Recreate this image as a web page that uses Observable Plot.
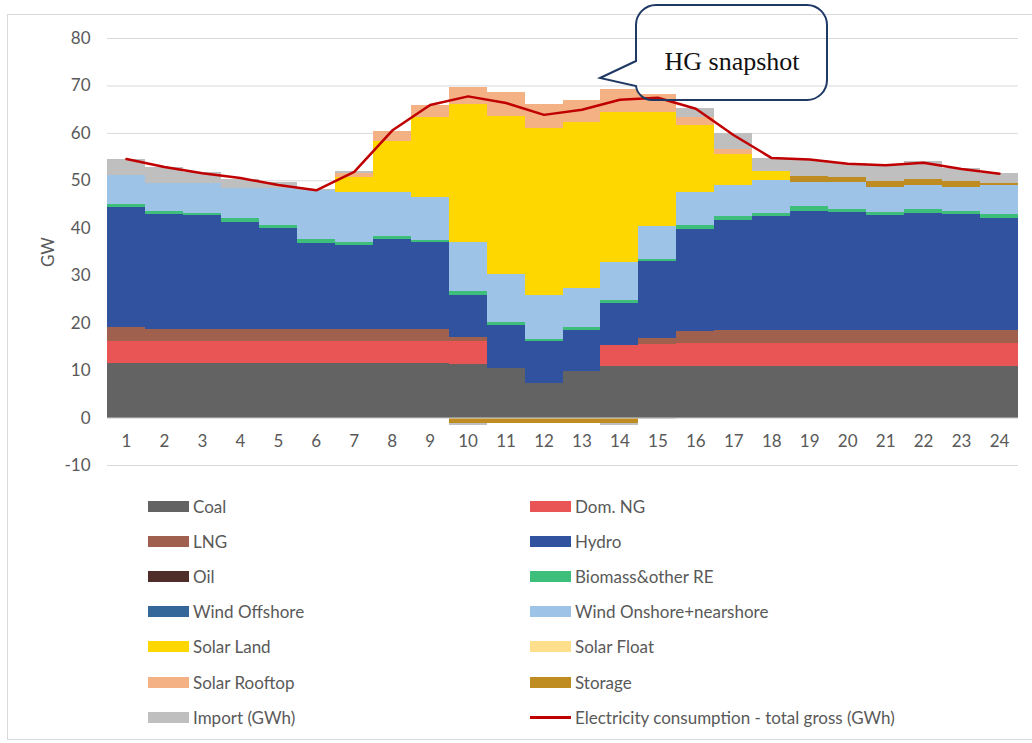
<!DOCTYPE html>
<html>
<head>
<meta charset="utf-8">
<script src="https://cdn.jsdelivr.net/npm/d3@7"></script>
<script src="https://cdn.jsdelivr.net/npm/@observablehq/plot@0.6"></script>
<style>
  html, body { margin: 0; padding: 0; background: #fff; }
  #wrap { position: relative; width: 1032px; height: 743px; overflow: hidden; font-family: Lato, "Open Sans", sans-serif; }
  #frame { position: absolute; left: 7px; top: 14px; width: 1040px; height: 726px; border: 1px solid #d9d9d9; box-sizing: border-box; }
  #chart { position: absolute; left: 0; top: 0; }
  #legend { position: absolute; left: 0; top: 0; width: 1032px; height: 743px; pointer-events: none; }
  .li { position: absolute; display: flex; align-items: center; font-size: 17px; color: #595959; white-space: nowrap; }
  .sw { width: 41px; height: 11px; margin-right: 4px; }
  .ln { width: 41px; height: 3px; margin-right: 4px; }
  #callout { position: absolute; left: 0; top: 0; }
</style>
</head>
<body>
<div id="wrap">
  <div id="frame"></div>
  <div id="chart"></div>
  <div id="legend"></div>
  <svg id="callout" width="1032" height="743"></svg>
</div>
<script>
const hours = [1,2,3,4,5,6,7,8,9,10,11,12,13,14,15,16,17,18,19,20,21,22,23,24];
const yTicks = [-10,0,10,20,30,40,50,60,70,80];

const coal         = [11.5,11.5,11.5,11.5,11.5,11.5,11.5,11.5,11.5,11.2,10.5,7.2,9.8,10.9,10.9,10.9,10.9,10.9,10.9,10.9,10.9,10.9,10.9,10.9];
const domNG        = [4.7,4.7,4.7,4.7,4.7,4.7,4.7,4.7,4.7,4.9,0,0,0,4.3,4.7,4.8,4.8,4.8,4.8,4.8,4.8,4.8,4.8,4.8];
const lng          = [2.9,2.5,2.5,2.5,2.5,2.5,2.5,2.5,2.5,0.8,0,0,0,0,1.2,2.5,2.7,2.7,2.8,2.8,2.8,2.8,2.8,2.8];
const hydro        = [25.2,24.2,23.9,22.5,21.2,18.1,17.7,18.9,18.2,9.0,9.1,8.9,8.7,8.9,16.1,21.6,23.3,24.1,25.1,24.8,24.2,24.7,24.4,23.5];
const oil          = [0,0,0,0,0,0,0,0,0,0,0,0,0,0,0,0,0,0,0,0,0,0,0,0];
const biomass      = [0.7,0.7,0.6,0.8,0.7,0.8,0.7,0.6,0.5,0.7,0.5,0.5,0.6,0.7,0.5,0.7,0.7,0.7,0.9,0.6,0.7,0.7,0.7,0.9];
const windOffshore = [0,0,0,0,0,0,0,0,0,0,0,0,0,0,0,0,0,0,0,0,0,0,0,0];
const windOnshore  = [6.2,5.8,6.2,6.3,7.8,10.3,10.5,9.4,9.1,10.3,10.1,9.3,8.2,8.0,7.0,7.1,6.7,6.9,5.1,5.7,5.2,5.2,5.0,6.2];
const solarLand    = [0,0,0,0,0,0,3.2,10.6,16.9,29.2,33.4,35.2,35.1,31.7,24.1,14.1,6.4,1.9,0,0,0,0,0,0];
const solarFloat   = [0,0,0,0,0,0,0,0,0,0,0,0,0,0,0,0,0,0,0,0,0,0,0,0];
const solarRooftop = [0,0,0,0,0,0,0.8,2.1,2.4,3.5,5.0,4.9,4.5,4.7,3.8,1.7,1.1,0,0,0,0,0,0,0];
const storage      = [0,0,0,0,0,0,0,0,0,-1.1,-1.1,-1.1,-1.1,-1.1,0,0,0,0,1.4,1.2,1.2,1.2,1.2,0.3];
const importGWh    = [3.3,3.4,2.3,1.9,1.2,0.2,0.3,0,0,-0.4,0,0,0,-0.4,-0.4,1.9,3.3,2.8,3.2,2.8,3.5,3.7,2.8,2.2];
const consumption  = [54.6,52.9,51.6,50.6,49.1,48.0,51.9,60.6,66.0,67.8,66.4,63.9,65.0,67.1,67.5,65.2,59.6,54.8,54.5,53.6,53.3,53.8,52.5,51.5];

const seriesNames  = ["Coal","Dom. NG","LNG","Hydro","Oil","Biomass&other RE","Wind Offshore","Wind Onshore+nearshore","Solar Land","Solar Float","Solar Rooftop","Storage","Import (GWh)"];
const seriesValues = [coal,domNG,lng,hydro,oil,biomass,windOffshore,windOnshore,solarLand,solarFloat,solarRooftop,storage,importGWh];
const seriesColors = ["#636363","#E95555","#A0604E","#31529F","#4F2E2A","#3DBE7A","#35679A","#9DC3E6","#FFD700","#FFDF8C","#F4B183","#BF8C22","#BFBFBF"];
const lineName = "Electricity consumption - total gross (GWh)";
const lineColor = "#C00000";

const rows = [];
seriesNames.forEach((name, si) => {
  hours.forEach((h, i) => rows.push({hour: h, series: name, value: seriesValues[si][i]}));
});
const lineRows = hours.map((h, i) => ({hour: h, value: consumption[i]}));

const plot = Plot.plot({
  width: 1032,
  height: 480,
  marginLeft: 107,
  marginRight: 14,
  marginTop: 38,
  marginBottom: 15,
  style: {fontFamily: "Lato, 'Open Sans', sans-serif", fontSize: "17px", color: "#595959", background: "transparent"},
  x: {type: "band", domain: hours, padding: 0, round: false, axis: null},
  y: {domain: [-10, 80], ticks: yTicks, axis: null},
  color: {domain: seriesNames, range: seriesColors},
  marks: [
    Plot.gridY(yTicks, {stroke: "#d9d9d9", strokeOpacity: 1, strokeWidth: 1}),
    Plot.barY(rows, Plot.stackY({x: "hour", y: "value", z: "series", fill: "series", order: null, inset: 0, shapeRendering: "crispEdges"})),
    Plot.ruleY([0], {stroke: "#d9d9d9", strokeWidth: 1}),
    Plot.line(lineRows, {x: "hour", y: "value", stroke: lineColor, strokeWidth: 2.5}),
    Plot.axisY(yTicks, {tickSize: 0, tickPadding: 17, fontSize: 17, fill: "#595959", tickFormat: d => String(d), label: "GW", labelAnchor: "center", labelArrow: "none", labelOffset: 66}),
    Plot.axisX(hours, {anchor: "bottom", tickSize: 0, tickPadding: 0, dy: -31, fontSize: 17, fill: "#595959", label: null})
  ]
});
document.getElementById("chart").appendChild(plot);

// Legend
const legend = document.getElementById("legend");
const legendItems = seriesNames.map((n, i) => ({name: n, color: seriesColors[i], type: "box"}));
legendItems.push({name: lineName, color: lineColor, type: "line"});
legendItems.forEach((item, i) => {
  const col = i % 2, row = Math.floor(i / 2);
  const div = document.createElement("div");
  div.className = "li";
  div.style.left = (col === 0 ? 148 : 530) + "px";
  div.style.top = (496 + row * 35.2) + "px";
  div.style.height = "20px";
  const sw = document.createElement("div");
  sw.className = item.type === "box" ? "sw" : "ln";
  sw.style.background = item.color;
  const tx = document.createElement("span");
  tx.textContent = item.name;
  div.appendChild(sw); div.appendChild(tx);
  legend.appendChild(div);
});

// Callout annotation
const svg = d3.select("#callout");
svg.append("path")
  .attr("d", "M656,5 H807 A20,20 0 0 1 827,25 V80 A20,20 0 0 1 807,100 H652 A16,16 0 0 1 636,86 L600,78 L636,61 V25 A20,20 0 0 1 656,5 Z")
  .attr("fill", "none").attr("stroke", "#1F3864").attr("stroke-width", 2);
svg.append("text")
  .attr("x", 732).attr("y", 70).attr("text-anchor", "middle")
  .attr("font-family", "'Liberation Serif', 'Times New Roman', serif").attr("font-size", 26).attr("fill", "#111")
  .text("HG snapshot");
</script>
</body>
</html>
